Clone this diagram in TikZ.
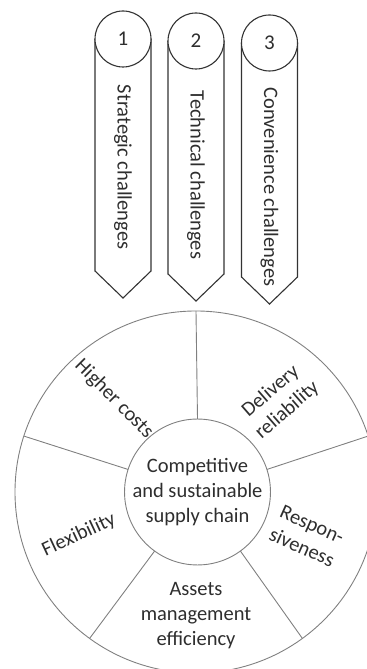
\documentclass[tikz,border=0pt]{standalone}
\usepackage{fontspec}
\setmainfont{Carlito}
\begin{document}
\begin{tikzpicture}[x=1bp,y=1bp,
  wheelline/.style={draw=black!50,line width=0.9bp},
  bannerline/.style={draw=black!80,line width=1.1bp},
  lbl/.style={text=black!82,font=\fontsize{20.5bp}{25bp}\selectfont,align=center,inner sep=0pt},
  numcirc/.style={circle,bannerline,fill=white,minimum size=56bp,inner sep=0pt,outer sep=0pt,text=black!82,font=\fontsize{21bp}{25bp}\selectfont}]
\useasboundingbox (0,0) rectangle (366,669);
% wheel
\node[circle,wheelline,minimum size=362bp,inner sep=0pt,outer sep=0pt] (outer) at (196,177) {};
\node[circle,wheelline,fill=white,minimum size=142bp,inner sep=0pt,outer sep=0pt,lbl] (core) at (197.5,177) {Competitive\\and sustainable\\supply chain};
\foreach \a in {18,90,162,234,306}{
  \draw[wheelline] (core.\a) -- (outer.\a);
}
\node[lbl,rotate=-45] (costs) at (114,270) {Higher costs};
\node[lbl,rotate=41] (deliv) at (279,268) {Delivery\\reliability};
\node[lbl,rotate=-24] (resp) at (307,133) {Respon-\\siveness};
\node[lbl,rotate=25] (flex) at (79,134) {Flexibility};
\node[lbl] (assets) at (196,53) {Assets\\management\\efficiency};
% banners
\coordinate (b1l) at (95,630); \coordinate (b1r) at (151,630);
\coordinate (b1bl) at (95,398); \coordinate (b1br) at (151,398); \coordinate (b1p) at (123,371);
\draw[bannerline] (b1l) -- (b1bl) -- (b1p) -- (b1br) -- (b1r);
\node[numcirc] (n1) at (123,630) {1};
\node[lbl,rotate=-90] (t1) at (123,502) {Strategic challenges};
\coordinate (b2l) at (168,628); \coordinate (b2r) at (224,628);
\coordinate (b2bl) at (168,395); \coordinate (b2br) at (224,395); \coordinate (b2p) at (196,368);
\draw[bannerline] (b2l) -- (b2bl) -- (b2p) -- (b2br) -- (b2r);
\node[numcirc] (n2) at (196,628) {2};
\node[lbl,rotate=-90] (t2) at (196,494) {Technical challenges};
\coordinate (b3l) at (241.5,626); \coordinate (b3r) at (297.5,626);
\coordinate (b3bl) at (241.5,392); \coordinate (b3br) at (297.5,392); \coordinate (b3p) at (269.5,365);
\draw[bannerline] (b3l) -- (b3bl) -- (b3p) -- (b3br) -- (b3r);
\node[numcirc] (n3) at (269.5,626) {3};
\node[lbl,rotate=-90] (t3) at (269.5,482) {Convenience challenges};
\end{tikzpicture}
\end{document}
